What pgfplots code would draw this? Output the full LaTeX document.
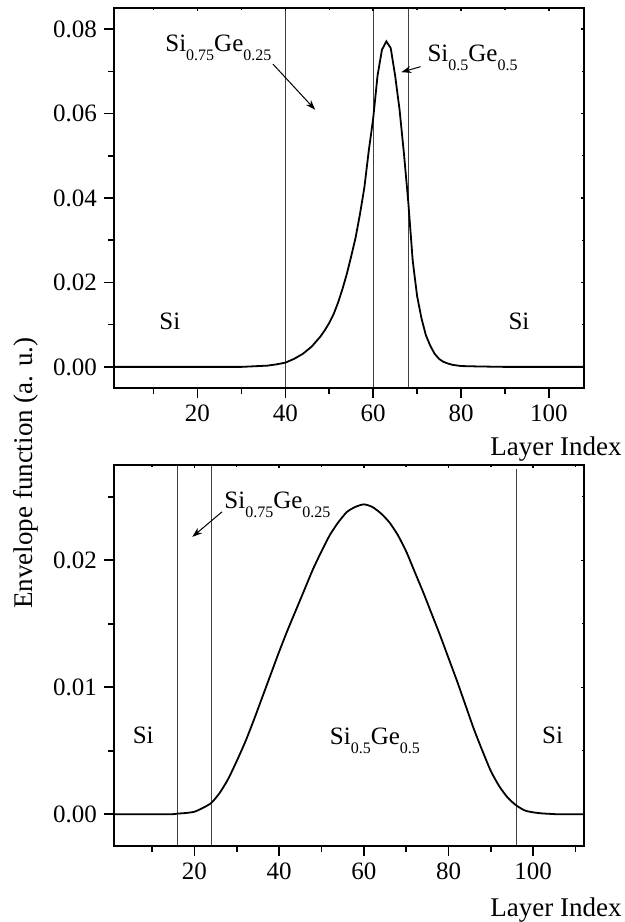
\documentclass[border=0pt]{standalone}
\usepackage{fontspec}
\setmainfont{Liberation Serif}
\usepackage{pgfplots}
\pgfplotsset{compat=1.18}
\usetikzlibrary{arrows.meta}

% subscript as in the Origin figure: small and deep
\newcommand\sub[1]{\raisebox{-4.5pt}{\fontsize{8}{9}\selectfont #1}}
\newcommand\lbl{\fontsize{12.5}{14}\selectfont}

\pgfplotsset{
  panel/.style={
    scale only axis, width=235pt,
    axis line style={line width=0.9pt},
    tick align=outside, xtick pos=lower, ytick pos=left,
    major tick length=5pt, minor tick length=3pt,
    every tick/.style={black, line width=0.8pt},
    tick label style={font=\fontsize{12.5}{14}\selectfont},
    scaled ticks=false,
    /pgf/number format/assume math mode=true,
    y tick label style={/pgf/number format/.cd, fixed, fixed zerofill, precision=2, /tikz/.cd},
    xtick={20,40,60,80,100},
    minor xtick={10,30,50,70,90,110},
    clip=false,
  },
  mirror/.style={
    scale only axis, width=235pt,
    axis line style={line width=0.9pt},
    tick align=inside, xtick pos=upper, ytick pos=right,
    scaled ticks=false,
    xticklabels={}, yticklabels={},
    major tick length=1.5pt, minor tick length=1pt,
    every tick/.style={black, line width=0.7pt},
    xtick={20,40,60,80,100},
    minor xtick={10,30,50,70,90,110},
  },
  layer/.style={black!75, line width=0.5pt},
  curve/.style={black, line width=0.9pt},
}

\begin{document}
\begin{tikzpicture}
\useasboundingbox (0,0) rectangle (312.5pt,-461pt);

% ---------- top panel ----------
\begin{axis}[panel, height=190pt, at={(57pt,-4pt)}, anchor=north west,
  xmin=1, xmax=108, ymin=-0.005, ymax=0.085,
  ytick={0,0.02,0.04,0.06,0.08}, minor ytick={0.01,0.03,0.05,0.07}]
\addplot[layer] coordinates {(40,-0.005) (40,0.085)};
\addplot[layer] coordinates {(60,-0.005) (60,0.085)};
\addplot[layer] coordinates {(68,-0.005) (68,0.085)};
\addplot[curve] coordinates {
  (1,0) (30,0) (32,0.0001) (34,0.0002) (36,0.0003) (38,0.0006) (40,0.0010)
  (42,0.0019) (44,0.0031) (46,0.0048) (48,0.0072) (49,0.0087) (50,0.0104)
  (51,0.0125) (52,0.0152) (53,0.0184) (54,0.0220) (55,0.0262) (56,0.0306)
  (57,0.0362) (58,0.0425) (59,0.0512) (60,0.0588) (61,0.0690) (62,0.0751)
  (63,0.0771) (64,0.0755) (65,0.0690) (66,0.0610) (67,0.0506) (68,0.0390)
  (69,0.0252) (70,0.0168) (71,0.0115) (72,0.0075) (73,0.0050) (74,0.0031)
  (75,0.0019) (76,0.0012) (77,0.0008) (78,0.0005) (80,0.0002) (84,0.0001)
  (90,0) (108,0)
};
\node[anchor=base west, inner sep=0, font=\lbl] at (axis cs:12.6,0.0746) {Si\sub{0.75}Ge\sub{0.25}};
\draw[-{Stealth[length=5pt,width=3.5pt]}, line width=0.5pt] (axis cs:37.2,0.0717) -- (axis cs:46.8,0.0609);
\node[anchor=base west, inner sep=0, font=\lbl] at (axis cs:72.3,0.0723) {Si\sub{0.5}Ge\sub{0.5}};
\draw[-{Stealth[length=5pt,width=3.5pt]}, line width=0.5pt] (axis cs:70.8,0.0711) -- (axis cs:66.4,0.0698);
\node[anchor=base, inner sep=0, font=\lbl] at (axis cs:13.7,0.0088) {Si};
\node[anchor=base, inner sep=0, font=\lbl] at (axis cs:93.2,0.0088) {Si};
\end{axis}
\begin{axis}[mirror, height=190pt, at={(57pt,-4pt)}, anchor=north west,
  xmin=1, xmax=108, ymin=-0.005, ymax=0.085,
  ytick={0,0.02,0.04,0.06,0.08}, minor ytick={0.01,0.03,0.05,0.07}]
\end{axis}

% ---------- bottom panel ----------
\begin{axis}[panel, height=190.5pt, at={(57pt,-232.5pt)}, anchor=north west,
  xmin=1, xmax=112, ymin=-0.0025, ymax=0.0275,
  ytick={0,0.01,0.02}, minor ytick={0.005,0.015,0.025}]
\addplot[layer] coordinates {(16,-0.0025) (16,0.0275)};
\addplot[layer] coordinates {(24,-0.0025) (24,0.0275)};
\addplot[layer] coordinates {(96,-0.0025) (96,0.0272)};
\addplot[curve, smooth, tension=0.4] coordinates {
  (1,0) (14,0) (16,0.00005) (18,0.0001) (20,0.0002) (22,0.0005) (24,0.0009)
  (26,0.0017) (28,0.0028) (30,0.0042) (32,0.0057) (34,0.0074) (36,0.0092)
  (38,0.0110) (40,0.0128) (42,0.0145) (44,0.0161) (46,0.0177) (48,0.0193)
  (50,0.0207) (52,0.0220) (54,0.0230) (56,0.0238) (58,0.0242) (60,0.0244)
  (62,0.0242) (64,0.0237) (66,0.0230) (68,0.0220) (70,0.0207) (72,0.0191)
  (74,0.0175) (76,0.0158) (78,0.0141) (80,0.0123) (82,0.0105) (84,0.0086)
  (86,0.0067) (88,0.0050) (90,0.0034) (92,0.0022) (94,0.0013) (96,0.0007)
  (98,0.0003) (100,0.00015) (102,0.00007) (104,0.00003) (106,0) (112,0)
};
\node[anchor=base, inner sep=0, font=\lbl] at (axis cs:7.9,0.00555) {Si};
\node[anchor=base west, inner sep=0, font=\lbl] at (axis cs:27.0,0.02408) {Si\sub{0.75}Ge\sub{0.25}};
\draw[-{Stealth[length=5pt,width=3.5pt]}, line width=0.5pt] (axis cs:26.5,0.02381) -- (axis cs:19.5,0.02184);
\node[anchor=base west, inner sep=0, font=\lbl] at (axis cs:51.9,0.00553) {Si\sub{0.5}Ge\sub{0.5}};
\node[anchor=base, inner sep=0, font=\lbl] at (axis cs:104.6,0.00555) {Si};
\end{axis}
\begin{axis}[mirror, height=190.5pt, at={(57pt,-232.5pt)}, anchor=north west,
  xmin=1, xmax=112, ymin=-0.0025, ymax=0.0275,
  ytick={0,0.01,0.02}, minor ytick={0.005,0.015,0.025}]
\end{axis}

% ---------- axis titles ----------
\node[rotate=90, font=\fontsize{13.5}{16}\selectfont] at (13pt,-236.5pt) {Envelope function (a. u.)};
\node[anchor=base east, inner sep=0, font=\fontsize{13.5}{16}\selectfont] at (311pt,-227.5pt) {Layer Index};
\node[anchor=base east, inner sep=0, font=\fontsize{13.5}{16}\selectfont] at (311pt,-458pt) {Layer Index};
\end{tikzpicture}
\end{document}
